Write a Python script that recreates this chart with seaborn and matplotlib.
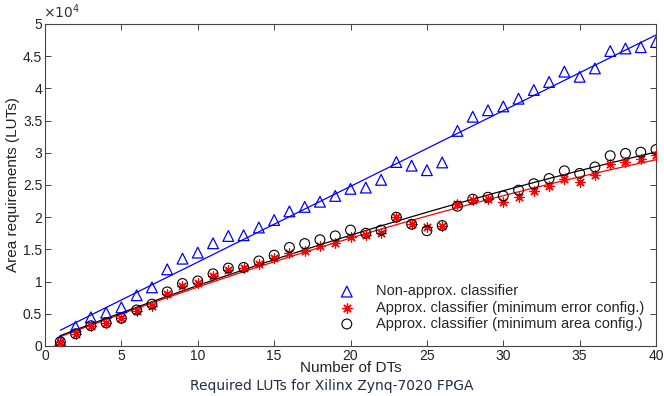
import numpy as np
import pandas as pd
import matplotlib
matplotlib.use("Agg")
import matplotlib.pyplot as plt
import seaborn as sns
from matplotlib.ticker import FixedLocator, FuncFormatter

# ---- data ----
num_dts = list(range(1, 41))
non_approx = [800, 3000, 4450, 5170, 6000, 7870, 9100, 11900, 13560, 14500,
              15950, 17080, 17200, 18400, 19560, 20900, 21600, 22400, 23300, 24400,
              24600, 25800, 28570, 28000, 27300, 28500, 33400, 35600, 36600, 37200,
              38400, 39750, 41000, 42600, 41800, 43100, 45800, 46200, 46400, 47200]
approx_min_err = [570, 1860, 3150, 3600, 4300, 5500, 6200, 8100, 9300, 9800,
                  10900, 11800, 12100, 12700, 13600, 14500, 14800, 15500, 16000, 17000,
                  17200, 17500, 20000, 18900, 18400, 18700, 22000, 22600, 22800, 22300,
                  23200, 24000, 24800, 25900, 25500, 26600, 28300, 28500, 29000, 29700]
approx_min_area = [670, 1900, 3150, 3600, 4300, 5600, 6500, 8400, 9700, 10100,
                   11200, 12100, 12200, 13200, 14100, 15300, 15900, 16500, 17100, 18000,
                   17500, 18000, 20000, 18900, 17900, 18700, 21700, 22800, 23100, 23300,
                   24200, 25200, 26000, 27200, 26800, 27800, 29550, 29900, 30100, 30500]
labels = ["Non-approx. classifier",
          "Approx. classifier (minimum error config.)",
          "Approx. classifier (minimum area config.)"]
x_ticks = [0, 5, 10, 15, 20, 25, 30, 35, 40]
y_ticks = [0, 5000, 10000, 15000, 20000, 25000, 30000, 35000, 40000, 45000, 50000]

df = pd.DataFrame({"n": num_dts, "a": non_approx, "b": approx_min_err, "c": approx_min_area})

sns.set_style("ticks")
plt.rcParams["font.family"] = ["Liberation Sans", "DejaVu Sans"]

fig = plt.figure(figsize=(6.64, 3.96), dpi=100)
ax = fig.add_axes([0.0678, 0.1263, 0.9202, 0.8131])

# fit lines
sns.regplot(data=df, x="n", y="a", order=1, ci=None, scatter=False, ax=ax,
            line_kws=dict(color="#0000ff", lw=0.9))
sns.regplot(data=df, x="n", y="b", order=2, ci=None, scatter=False, ax=ax,
            line_kws=dict(color="#ff0000", lw=0.9))
sns.regplot(data=df, x="n", y="c", order=2, ci=None, scatter=False, ax=ax,
            line_kws=dict(color="#000000", lw=0.9))

# markers
sns.scatterplot(data=df, x="n", y="a", marker="^", s=60, facecolors="none",
                edgecolor="#0000ff", linewidth=0.9, ax=ax, label=labels[0], zorder=3)
sns.scatterplot(data=df, x="n", y="b", marker=(8, 2, 0), s=45, color="#ff0000",
                linewidth=0.9, ax=ax, label=labels[1], zorder=3)
sns.scatterplot(data=df, x="n", y="c", marker="o", s=50, facecolors="none",
                edgecolor="#000000", linewidth=0.8, ax=ax, label=labels[2], zorder=3)

ax.set_xlim(0, 40)
ax.set_ylim(0, 50000)
ax.xaxis.set_major_locator(FixedLocator(x_ticks))
ax.yaxis.set_major_locator(FixedLocator(y_ticks))
ax.yaxis.set_major_formatter(FuncFormatter(lambda v, p: "%g" % (v / 1e4)))

for s in ax.spines.values():
    s.set_visible(True)
    s.set_color("#444444")
    s.set_linewidth(0.8)
ax.tick_params(direction="in", top=True, right=True, length=4, width=0.7,
               color="#444444", labelsize=10, pad=2, labelcolor="#222222")

ax.set_xlabel("Number of DTs", fontsize=11, labelpad=-1, color="#222222")
ax.set_ylabel("Area requirements (LUTs)", fontsize=11, labelpad=2, color="#222222")
ax.text(-0.003, 1.008, r"$\times10^{4}$", transform=ax.transAxes, fontsize=10,
        ha="left", va="bottom", color="#333333")

fig.text(0.5, 0.008, "Required LUTs for Xilinx Zynq-7020 FPGA", ha="center",
         va="bottom", fontsize=10, color="#1f2f45", family=["DejaVu Sans"])

leg = ax.legend(loc="lower right", bbox_to_anchor=(0.995, 0.02), frameon=False,
                fontsize=10.5, handletextpad=1.0, labelspacing=0.15,
                borderaxespad=0.2)

fig.savefig("out.png", dpi=100)
